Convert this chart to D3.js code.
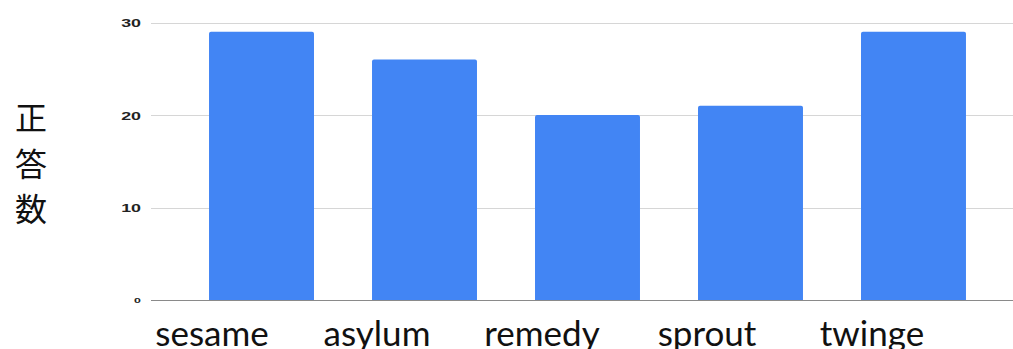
<!DOCTYPE html>
<html>
<head>
<meta charset="utf-8">
<script src="https://cdn.jsdelivr.net/npm/d3@7"></script>
<style>
  html, body { margin: 0; padding: 0; background: #fff; }
  svg { display: block; }
</style>
</head>
<body>
<svg id="chart" width="1013" height="349"></svg>
<script>
// Words and number of correct answers for each
const words = ["sesame", "asylum", "remedy", "sprout", "twinge"];
const correct = [29, 26, 20, 21, 29];
const yTicks = [0, 10, 20, 30];
const yTitle = ["正", "答", "数"];

const W = 1013, H = 349;
const plot = { left: 151, right: 1013, top: 22.5, bottom: 300 };

const svg = d3.select("#chart");

const y = d3.scaleLinear().domain([0, 30]).range([plot.bottom, plot.top]);
const x = d3.scaleBand().domain(words).range([plot.left, 1024])
  .paddingInner(0.356).paddingOuter(0.356);
// Word captions sit on their own row beneath the plot
const xLabel = d3.scalePoint().domain(words).range([212, 872]);

// Horizontal gridlines
svg.append("g")
  .selectAll("line")
  .data(yTicks.filter(t => t > 0))
  .join("line")
  .attr("x1", plot.left).attr("x2", plot.right)
  .attr("y1", d => Math.round(y(d)) + 0.5).attr("y2", d => Math.round(y(d)) + 0.5)
  .attr("stroke", "#d6d6d6").attr("stroke-width", 1);

// Bars with slightly rounded tops
const r = 2;
svg.append("g")
  .selectAll("path")
  .data(words.map((w, i) => ({ w, v: correct[i] })))
  .join("path")
  .attr("fill", "#4285F4")
  .attr("d", d => {
    const x0 = x(d.w), x1 = x0 + x.bandwidth();
    const y0 = y(d.v), y1 = y(0);
    return `M${x0},${y1}V${y0 + r}Q${x0},${y0} ${x0 + r},${y0}` +
           `H${x1 - r}Q${x1},${y0} ${x1},${y0 + r}V${y1}Z`;
  });

// Baseline
svg.append("line")
  .attr("x1", plot.left).attr("x2", plot.right)
  .attr("y1", Math.round(y(0)) + 0.5).attr("y2", Math.round(y(0)) + 0.5)
  .attr("stroke", "#8a8a8a").attr("stroke-width", 1);

// Y axis tick labels
const yAxis = svg.append("g")
  .attr("transform", `translate(${plot.left},0)`)
  .call(d3.axisLeft(y).tickValues(yTicks).tickSize(0).tickPadding(10));
yAxis.select(".domain").remove();
yAxis.selectAll("text")
  .attr("font-family", "'Liberation Sans', Arial, sans-serif")
  .attr("font-weight", "bold")
  .attr("font-size", d => d === 0 ? 8 : 11.5)
  .attr("fill", "#222")
  .attr("text-anchor", "end")
  .attr("x", 0)
  .attr("dy", "0.35em")
  .attr("transform", "translate(-10,0) scale(1.55,1)");

// Word captions
svg.append("g")
  .selectAll("text")
  .data(words)
  .join("text")
  .attr("x", d => xLabel(d))
  .attr("y", 346)
  .attr("text-anchor", "middle")
  .attr("font-family", "Lato, 'Open Sans', sans-serif")
  .attr("font-size", 35)
  .attr("fill", "#111")
  .text(d => d);

// Vertical axis title, one character per row
svg.append("g")
  .selectAll("text")
  .data(yTitle)
  .join("text")
  .attr("x", 31)
  .attr("y", (d, i) => 116 + i * 45.5)
  .attr("text-anchor", "middle")
  .attr("dominant-baseline", "central")
  .attr("font-family", "'Noto Sans CJK JP', sans-serif")
  .attr("font-size", 32)
  .attr("fill", "#111")
  .text(d => d);
</script>
</body>
</html>
